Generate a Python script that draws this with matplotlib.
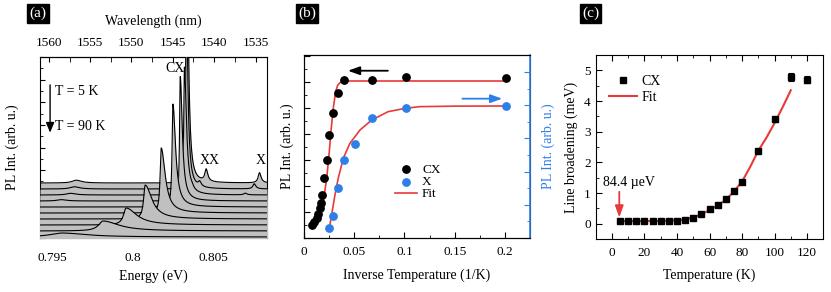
import numpy as np
import matplotlib
matplotlib.use('Agg')
import matplotlib.pyplot as plt
from matplotlib.ticker import MultipleLocator, FixedLocator, FuncFormatter, NullFormatter
from matplotlib.lines import Line2D

plt.rcParams['font.family'] = ['Liberation Serif', 'DejaVu Serif']
plt.rcParams['font.size'] = 10

RED = '#e83a3a'
BLUE = '#2e7fe8'
GREY = '#c0c0c0'

# ---------------- Panel (a): PL spectra (peak parameters)
spec_base = [4.86, 4.33, 3.80, 3.27, 2.74, 2.21, 1.68, 1.15, 0.62, 0.09]
cx_E = [0.80338, 0.80333, 0.80322, 0.80296, 0.80250, 0.80177, 0.80077, 0.79958, 0.79814, 0.79558]
cx_A = [20.0, 17.0, 11.3, 11.0, 9.1, 5.75, 3.0, 1.5, 0.88, 0.35]
cx_gl = [0.04, 0.04, 0.05, 0.05, 0.06, 0.08, 0.12, 0.2, 0.35, 0.9]      # meV, low-energy side
cx_gr = [0.12, 0.12, 0.15, 0.15, 0.2, 0.3, 0.5, 0.8, 1.2, 1.8]          # meV, high-energy side
xx_E = [0.80458, 0.80417, 0.80369]
xx_A = [1.06, 0.40, 0.15]
x_E = [0.80791, 0.80758, 0.80702]
x_A = [0.90, 0.45, 0.15]
lo_E = [0.79646, 0.79633, 0.79610, 0.79552]
lo_A = [0.25, 0.20, 0.15, 0.12]
wl_ticks = [1560, 1555, 1550, 1545, 1540, 1535]

# ---------------- Panel (b): integrated PL vs inverse temperature
cx_invT = [0.2015, 0.1011, 0.0673, 0.0401, 0.0335, 0.0285, 0.0249, 0.0226, 0.0202,
           0.0182, 0.0169, 0.0159, 0.0142, 0.0126, 0.0102, 0.0077]
cx_int = [12.33, 12.36, 12.15, 12.15, 11.18, 9.64, 7.92, 6.00, 4.64,
          3.31, 2.67, 2.28, 1.85, 1.54, 1.23, 1.00]
x_invT = [0.0249, 0.0285, 0.0335, 0.0401, 0.0507, 0.0673, 0.1011, 0.2015]
x_int = [0.62, 1.34, 3.03, 4.68, 5.64, 7.21, 7.81, 7.95]
cxfit_invT = [0.0093, 0.0142, 0.0192, 0.0226, 0.0249, 0.0268, 0.0291, 0.0315, 0.0335,
              0.0358, 0.0385, 0.0408, 0.06, 0.1, 0.2]
cxfit_int = [1.0, 1.38, 2.79, 4.59, 6.38, 8.18, 9.97, 11.26, 11.75,
             11.95, 12.05, 12.08, 12.08, 12.08, 12.08]
xfit_invT = [0.0252, 0.0275, 0.0308, 0.0341, 0.0391, 0.0457, 0.0557, 0.0673, 0.0838,
             0.1011, 0.1153, 0.1500, 0.2015]
xfit_int = [0.58, 1.39, 2.59, 3.60, 4.80, 5.70, 6.50, 7.10, 7.61,
            7.81, 7.91, 7.94, 7.95]

# ---------------- Panel (c): line broadening vs temperature
temp = [5, 10, 15, 20, 25, 30, 35, 40, 45, 50, 55, 60, 65, 70, 75, 80, 90, 100, 110, 120]
broad = [0.084, 0.08, 0.08, 0.08, 0.08, 0.085, 0.09, 0.10, 0.12, 0.20, 0.33, 0.47,
         0.60, 0.80, 1.07, 1.37, 2.38, 3.40, 4.78, 4.70]
broad_err = [0.04, 0.04, 0.04, 0.04, 0.04, 0.04, 0.04, 0.04, 0.04, 0.04, 0.05, 0.05,
             0.05, 0.06, 0.06, 0.06, 0.07, 0.08, 0.12, 0.12]
fit_T = [5, 10, 20, 30, 40, 45, 50, 55, 60, 65, 70, 75, 80, 85, 90, 95, 100, 105, 110]
fit_B = [0.084, 0.084, 0.085, 0.088, 0.11, 0.14, 0.2, 0.31, 0.44, 0.6, 0.77, 1.05,
         1.37, 1.85, 2.38, 2.8, 3.28, 3.8, 4.35]

fig = plt.figure(figsize=(8.31, 2.92), dpi=100)
W, H = 831, 292


def axes_px(l, t, r, b):
    return fig.add_axes([l / W, 1 - b / H, (r - l) / W, (b - t) / H])


def panel_tag(x, y, s):
    fig.text(x / W, 1 - y / H, s, color='white', fontsize=11, ha='center', va='center',
             bbox=dict(boxstyle='square,pad=0.15', fc='black', ec='black'))


# ================= (a)
axA = axes_px(40, 57, 267, 238)
E = np.linspace(0.7942, 0.80838, 4000)


def lor(E, E0, A, gl, gr):
    g = np.where(E < E0, gl, gr) * 1e-3
    return A / (1 + ((E - E0) / g) ** 2)


for i in range(len(spec_base)):
    y = np.full_like(E, spec_base[i])
    y = y + lor(E, cx_E[i], cx_A[i], cx_gl[i], cx_gr[i])
    if i < len(xx_E):
        y = y + lor(E, xx_E[i], xx_A[i], 0.1, 0.12)
        y = y + lor(E, x_E[i], x_A[i], 0.1, 0.12)
    if i < len(lo_E):
        y = y + lor(E, lo_E[i], lo_A[i], 0.3, 0.4)
    axA.fill_between(E, 0, y, color=GREY, lw=0, zorder=2 * i + 1)
    axA.plot(E, y, color='black', lw=0.8, zorder=2 * i + 2)

axA.set_xlim(0.7942, 0.80838)
axA.set_ylim(0, 16)
axA.xaxis.set_major_locator(FixedLocator([0.795, 0.8, 0.805]))
axA.xaxis.set_major_formatter(FuncFormatter(lambda v, p: '%g' % round(v, 4)))
axA.xaxis.set_minor_locator(MultipleLocator(0.0025))
axA.yaxis.set_major_locator(MultipleLocator(2))
axA.yaxis.set_minor_locator(MultipleLocator(1))
axA.yaxis.set_major_formatter(NullFormatter())
axA.tick_params(which='both', direction='in', labelsize=9.5)
axA.tick_params(which='major', length=3.5)
axA.tick_params(which='minor', length=2)
axA.tick_params(axis='x', which='major', pad=10)
axA.set_xlabel('Energy (eV)', va='center')
axA.xaxis.set_label_coords(0.5, -0.214)
axA.set_ylabel('PL Int. (arb. u.)', va='center')
axA.yaxis.set_label_coords(-0.123, 0.5)

sec = axA.secondary_xaxis('top', functions=(lambda e: 1239.84 / np.asarray(e, float),
                                            lambda l: 1239.84 / np.asarray(l, float)))
sec.xaxis.set_major_locator(FixedLocator(wl_ticks))
sec.xaxis.set_minor_locator(FixedLocator([1557.5, 1552.5, 1547.5, 1542.5, 1537.5]))
sec.xaxis.set_major_formatter(FuncFormatter(lambda v, p: '%d' % v))
sec.tick_params(which='both', direction='in', labelsize=9.5, pad=6)
sec.tick_params(which='major', length=3.5)
sec.tick_params(which='minor', length=3.5)
sec.set_xlabel('Wavelength (nm)', va='center')
sec.xaxis.set_label_coords(0.5, 1.199, transform=axA.transAxes)

axA.text(0.80261, 14.99, 'CX', ha='center', va='center', fontsize=10, zorder=30)
axA.text(0.8048, 6.85, 'XX', ha='center', va='center', fontsize=10, zorder=30)
axA.text(0.80799, 6.85, 'X', ha='center', va='center', fontsize=10, zorder=30)
axA.text(0.79514, 12.94, 'T = 5 K', ha='left', va='center', fontsize=10, zorder=30)
axA.text(0.79514, 9.84, 'T = 90 K', ha='left', va='center', fontsize=10, zorder=30)
axA.annotate('', xy=(0.79483, 9.31), xytext=(0.79483, 13.53), zorder=30,
             arrowprops=dict(arrowstyle='-|>,head_length=0.6,head_width=0.25',
                             color='black', lw=1.0, shrinkA=0, shrinkB=0))

# ================= (b)
axB = axes_px(304, 55, 530, 238)
axB2 = axB.twinx()
axB.plot(cxfit_invT, cxfit_int, color=RED, lw=1.2, zorder=2)
h_cx = axB.scatter(cx_invT, cx_int, s=28, color='black', zorder=3, label='CX')
axB2.plot(xfit_invT, xfit_int, color=RED, lw=1.2, zorder=2)
h_x = axB2.scatter(x_invT, x_int, s=28, color=BLUE, zorder=3, label='X')
axB.set_xlim(0, 0.225)
axB.set_ylim(0, 14.08)
axB2.set_ylim(0, 11.02)
axB.xaxis.set_major_locator(FixedLocator([0, 0.05, 0.1, 0.15, 0.2]))
axB.xaxis.set_major_formatter(FuncFormatter(lambda v, p: '%g' % round(v, 3)))
axB.xaxis.set_minor_locator(MultipleLocator(0.025))
axB.yaxis.set_major_locator(MultipleLocator(2))
axB.yaxis.set_minor_locator(MultipleLocator(1))
axB.yaxis.set_major_formatter(NullFormatter())
axB2.yaxis.set_major_locator(MultipleLocator(2))
axB2.yaxis.set_minor_locator(MultipleLocator(1))
axB2.yaxis.set_major_formatter(NullFormatter())
axB.tick_params(which='both', direction='in', labelsize=9.5)
axB.tick_params(which='major', length=4)
axB.tick_params(which='minor', length=2.5)
axB.tick_params(axis='x', which='major', pad=6)
axB2.tick_params(which='both', direction='in', color=BLUE)
axB2.tick_params(which='major', length=4)
axB2.tick_params(which='minor', length=2.5)
axB2.spines['right'].set_color(BLUE)
axB2.spines['right'].set_linewidth(1.2)
axB.set_xlabel('Inverse Temperature (1/K)', va='center')
axB.xaxis.set_label_coords(0.5, -0.202)
axB.set_ylabel('PL Int. (arb. u.)', va='center')
axB.yaxis.set_label_coords(-0.075, 0.5)
axB2.set_ylabel('PL Int. (arb. u.)', va='center', color=BLUE, rotation=90)
axB2.yaxis.set_label_coords(1.08, 0.5)
axB.annotate('', xy=(0.0437, 12.87), xytext=(0.0835, 12.87),
             arrowprops=dict(arrowstyle='-|>,head_length=0.7,head_width=0.25',
                             color='black', lw=1.3, shrinkA=0, shrinkB=0))
axB2.annotate('', xy=(0.1974, 8.39), xytext=(0.1577, 8.39),
              arrowprops=dict(arrowstyle='-|>,head_length=0.7,head_width=0.25',
                              color=BLUE, lw=1.3, shrinkA=0, shrinkB=0))
fit_proxy = Line2D([], [], color=RED, lw=1.2, label='Fit')
axB2.legend(handles=[h_cx, h_x, fit_proxy], loc='center left',
            bbox_to_anchor=((395 - 304) / 226, (238 - 182) / 183), frameon=False,
            fontsize=9.5, handlelength=1.7, handletextpad=0.35, labelspacing=0.0,
            borderpad=0, borderaxespad=0, scatterpoints=1)

# ================= (c)
axC = axes_px(595.7, 55, 823.3, 239)
axC.plot(fit_T, fit_B, color=RED, lw=1.5, zorder=2)
axC.errorbar(temp, broad, yerr=broad_err, fmt='s', color='black', ms=4.2,
             capsize=2.5, elinewidth=0.8, capthick=0.8, zorder=3)
axC.set_xlim(-10, 130)
axC.set_ylim(-0.5, 5.5)
axC.xaxis.set_major_locator(MultipleLocator(20))
axC.xaxis.set_minor_locator(MultipleLocator(10))
axC.yaxis.set_major_locator(MultipleLocator(1))
axC.yaxis.set_minor_locator(MultipleLocator(0.5))
axC.tick_params(which='both', direction='in', labelsize=9.5, top=True)
axC.tick_params(which='major', length=4)
axC.tick_params(which='minor', length=2.5)
axC.tick_params(axis='x', which='major', pad=6)
axC.set_xlabel('Temperature (K)', va='center')
axC.xaxis.set_label_coords(0.5, -0.196)
axC.set_ylabel('Line broadening (meV)', va='center')
axC.yaxis.set_label_coords(-0.109, 0.5)
axC.text(-5.5, 1.34, '84.4 µeV', ha='left', va='center', fontsize=10)
axC.annotate('', xy=(4.5, 0.2), xytext=(4.5, 1.04),
             arrowprops=dict(arrowstyle='-|>,head_length=0.7,head_width=0.25',
                             color=RED, lw=1.3, shrinkA=0, shrinkB=0))
cx_proxy = Line2D([], [], color='black', marker='s', ms=4.2, ls='none', label='CX')
fit_proxy_c = Line2D([], [], color=RED, lw=1.5, label='Fit')
axC.legend(handles=[cx_proxy, fit_proxy_c], loc='center left',
           bbox_to_anchor=((609 - 595.7) / 227.6, (239 - 89.3) / 184), frameon=False,
           fontsize=10, handlelength=2.0, handletextpad=0.35, labelspacing=0.2,
           borderpad=0, borderaxespad=0)

panel_tag(38, 13.5, '(a)')
panel_tag(307, 13.5, '(b)')
panel_tag(590.5, 13.5, '(c)')

fig.savefig('out.png', dpi=100)
